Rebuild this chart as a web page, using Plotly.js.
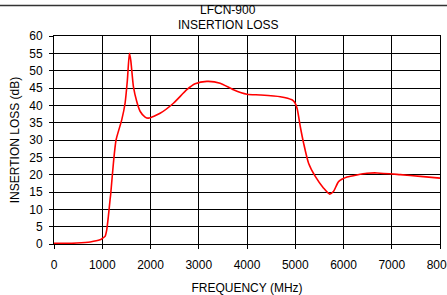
<!DOCTYPE html>
<html><head><meta charset="utf-8">
<script src="https://cdn.plot.ly/plotly-3.0.1.min.js"></script>
<style>html,body{margin:0;padding:0;background:#fff;}#chart{width:447px;height:295px;}</style>
</head><body><div id="chart"></div>
<script>
var freqMHz = [0, 250, 470, 750, 954, 1000, 1058, 1093, 1127, 1162, 1176, 1231, 1286, 1404, 1473, 1521, 1563, 1591, 1646, 1715, 1784, 1888, 1957, 2199, 2475, 2753, 2925, 3168, 3444, 3720, 3998, 4274, 4689, 4931, 4990, 5040, 5104, 5173, 5276, 5415, 5588, 5712, 5795, 5898, 6072, 6487, 6695, 7178, 7593, 8000];
var lossDB = [0.2, 0.2, 0.3, 0.6, 1.2, 1.6, 2.2, 4.1, 8, 12.8, 14.5, 23.3, 30, 35.8, 40.6, 47.3, 55, 53, 45.4, 41.1, 38.3, 36.6, 36.3, 37.7, 40.6, 44.5, 46.2, 46.9, 46.4, 44.5, 43.2, 43, 42.5, 41.6, 40.8, 39, 33.9, 29.1, 23.3, 19.5, 16.1, 14.4, 15.2, 18, 19.3, 20.4, 20.5, 20, 19.5, 19];
var xTicks = [0, 1000, 2000, 3000, 4000, 5000, 6000, 7000, 8000];
var yTicks = [0, 5, 10, 15, 20, 25, 30, 35, 40, 45, 50, 55, 60];
var titleLines = ['LFCN-900', 'INSERTION LOSS'];

var fontFam = 'Liberation Sans, Arial, sans-serif';
var trace = {
  x: freqMHz, y: lossDB, type: 'scatter', mode: 'lines',
  line: {color: '#ff0000', width: 1.6, shape: 'spline', smoothing: 0.6},
  hoverinfo: 'skip'
};
var plotH = 295 - 36 - 51;
var titleY = [10, 25];
var annotations = titleLines.map(function(t, i){
  return {text: t, xref: 'paper', yref: 'paper', x: (228 - 54) / 386, xanchor: 'center',
    y: (244 - titleY[i]) / plotH, yanchor: 'middle', showarrow: false,
    font: {family: fontFam, size: 12, color: '#000'}};
});
var layout = {
  width: 447, height: 295,
  margin: {l: 54, r: 7, t: 36, b: 51, pad: 0},
  paper_bgcolor: '#fff', plot_bgcolor: '#fff',
  showlegend: false,
  xaxis: {range: [0, 8000], tickvals: xTicks, ticktext: xTicks.map(String),
    showgrid: true, gridcolor: '#000', gridwidth: 1, zeroline: false,
    showline: true, linecolor: '#000', linewidth: 1, mirror: true,
    ticks: 'outside', ticklen: 4, tickcolor: '#000', ticklabeloverflow: 'allow', ticklabelstandoff: 6,
    tickfont: {family: fontFam, size: 12, color: '#000'},
    title: {text: 'FREQUENCY (MHz)', standoff: 14, font: {family: fontFam, size: 12, color: '#000'}}},
  yaxis: {range: [0, 60], tickvals: yTicks, ticktext: yTicks.map(String),
    showgrid: true, gridcolor: '#000', gridwidth: 1, zeroline: false,
    showline: true, linecolor: '#000', linewidth: 1, mirror: true,
    ticks: 'outside', ticklen: 4, tickcolor: '#000', ticklabelstandoff: 4,
    tickfont: {family: fontFam, size: 12, color: '#000'},
    title: {text: 'INSERTION LOSS (dB)', standoff: 7, font: {family: fontFam, size: 12, color: '#000'}}},
  shapes: [{type:'line', xref:'paper', yref:'paper', x0: -54/386, x1: 393/386, y0: 1.147, y1: 1.147,
    line:{color:'#333', width:1.5}}],
  annotations: annotations
};
Plotly.newPlot('chart', [trace], layout, {staticPlot: true, displayModeBar: false});
</script></body></html>
